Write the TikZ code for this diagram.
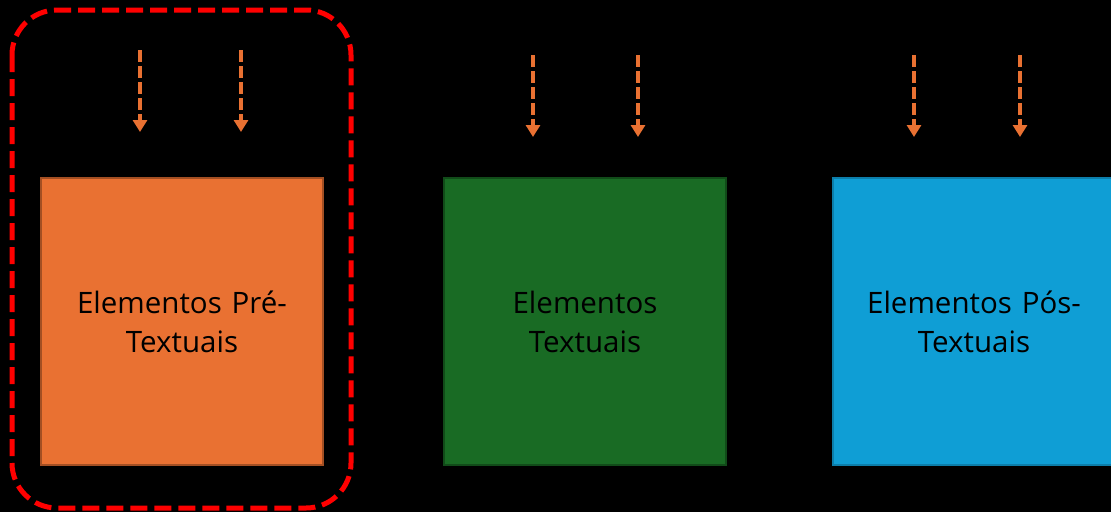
\documentclass[tikz,border=0pt]{standalone}
\usepackage{fontspec}
\setmainfont{Open Sans}
\usetikzlibrary{arrows.meta,positioning}
\definecolor{acorange}{HTML}{E97132}
\definecolor{acgreen}{HTML}{196B24}
\definecolor{acblue}{HTML}{0F9ED5}
\tikzset{
	secbox/.style={draw, line width=1.5pt, minimum width=282pt, minimum height=287pt, inner sep=0pt, align=center, text width=260pt, font=\fontsize{29.5}{39}\selectfont},
	downarrow/.style={acorange, line width=4pt, dash pattern=on 12pt off 4pt, -{Triangle[width=14pt,length=12pt]}},
	groupframe/.style={red, line width=5pt, dash pattern=on 17pt off 7pt, rounded corners=45pt}
}
\begin{document}
\begin{tikzpicture}[x=1pt,y=-1pt]
				\fill[black] (0,0) rectangle (1111,512);
				\useasboundingbox (0,0) rectangle (1111,512);
				\node[secbox, fill=acorange, draw=acorange!70!black] (pre) at (182,321.5) {Elementos Pré-\\Textuais};
				\node[secbox, fill=acgreen, draw=acgreen!70!black] (txt) at (585,321.5) {Elementos\\Textuais};
				\node[secbox, fill=acblue, draw=acblue!80!black] (pos) at (974,321.5) {Elementos Pós-\\Textuais};
				\coordinate (pre1s) at (140,50);
				\coordinate (pre1e) at (140,132);
				\coordinate (pre2s) at (241,50);
				\coordinate (pre2e) at (241,132);
				\coordinate (txt1s) at (533,55);
				\coordinate (txt1e) at (533,137);
				\coordinate (txt2s) at (638,55);
				\coordinate (txt2e) at (638,137);
				\coordinate (pos1s) at (914,55);
				\coordinate (pos1e) at (914,137);
				\coordinate (pos2s) at (1020,55);
				\coordinate (pos2e) at (1020,137);
				\draw[downarrow] (pre1s) to (pre1e);
				\draw[downarrow] (pre2s) to (pre2e);
				\draw[downarrow] (txt1s) to (txt1e);
				\draw[downarrow] (txt2s) to (txt2e);
				\draw[downarrow] (pos1s) to (pos1e);
				\draw[downarrow] (pos2s) to (pos2e);
				\draw[groupframe] (12,10) rectangle (351,508);
	\end{tikzpicture}
\end{document}
